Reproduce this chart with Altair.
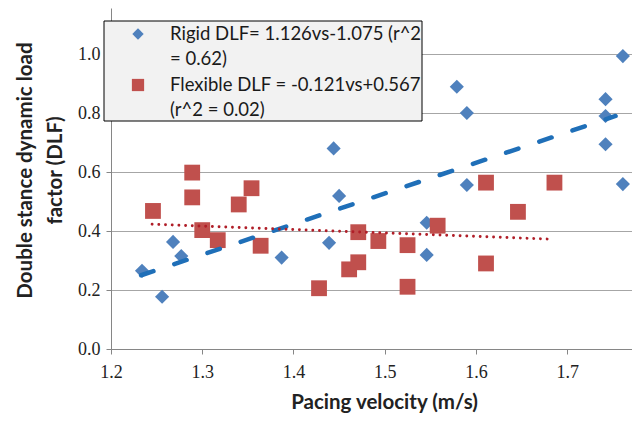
import altair as alt
import pandas as pd

# Rigid surface (blue diamonds)
rigid_v = [1.234, 1.256, 1.268, 1.277, 1.387, 1.439, 1.444, 1.450, 1.546, 1.546,
           1.579, 1.590, 1.590, 1.742, 1.742, 1.742, 1.761, 1.761]
rigid_dlf = [0.265, 0.177, 0.363, 0.315, 0.310, 0.360, 0.680, 0.519, 0.428, 0.319,
             0.889, 0.800, 0.556, 0.847, 0.790, 0.694, 0.993, 0.559]

# Flexible surface (red squares)
flex_v = [1.246, 1.289, 1.289, 1.300, 1.317, 1.340, 1.354, 1.364, 1.428, 1.461,
          1.471, 1.471, 1.493, 1.525, 1.525, 1.558, 1.611, 1.611, 1.646, 1.686]
flex_dlf = [0.468, 0.598, 0.514, 0.403, 0.369, 0.490, 0.545, 0.350, 0.206, 0.270,
            0.294, 0.396, 0.366, 0.352, 0.211, 0.418, 0.564, 0.290, 0.465, 0.564]

# Trend line end points as drawn
rigid_fit_v = [1.233, 1.753]
rigid_fit_dlf = [0.250, 0.790]
flex_fit_v = [1.245, 1.685]
flex_fit_dlf = [0.423, 0.372]

x_ticks = [1.2, 1.3, 1.4, 1.5, 1.6, 1.7]
y_ticks = [0.0, 0.2, 0.4, 0.6, 0.8, 1.0]

legend_lines = ["Rigid DLF= 1.126vs-1.075 (r^2", "= 0.62)",
                "Flexible DLF = -0.121vs+0.567", "(r^2 = 0.02)"]

BLUE = "#4F81BD"
RED = "#C0504D"

rigid = pd.DataFrame({"v": rigid_v, "dlf": rigid_dlf})
flex = pd.DataFrame({"v": flex_v, "dlf": flex_dlf})
rfit = pd.DataFrame({"v": rigid_fit_v, "dlf": rigid_fit_dlf})
ffit = pd.DataFrame({"v": flex_fit_v, "dlf": flex_fit_dlf})

xscale = alt.Scale(domain=[1.2, 1.771], nice=False, zero=False)
yscale = alt.Scale(domain=[0, 1.156], nice=False)

xaxis = alt.Axis(values=x_ticks, format=".1f", grid=False, labelFlush=False,
                 title="Pacing velocity (m/s)", titleX=273, titleY=59,
                 titleBaseline="alphabetic", titleAnchor="middle")
yaxis = alt.Axis(values=y_ticks, format=".1f", grid=True, labelFlush=False,
                 title=["Double  stance dynamic load", "factor (DLF)"],
                 titleAngle=-90, titleX=-86, titleY=162, titleAlign="center",
                 titleBaseline="middle", titleLineHeight=30)

base_x = alt.X("v:Q", scale=xscale, axis=xaxis)
base_y = alt.Y("dlf:Q", scale=yscale, axis=yaxis)

pts_r = alt.Chart(rigid).mark_point(shape="diamond", filled=True, size=200,
                                     color=BLUE, opacity=1).encode(x=base_x, y=base_y)
pts_f = alt.Chart(flex).mark_point(shape="square", filled=True, size=250,
                                    color=RED, opacity=1).encode(
    x=alt.X("v:Q", scale=xscale), y=alt.Y("dlf:Q", scale=yscale))

line_r = alt.Chart(rfit).mark_line(color="#1F6FB8", strokeWidth=4.5,
                                    strokeDash=[13, 22], strokeCap="round").encode(
    x=alt.X("v:Q", scale=xscale), y=alt.Y("dlf:Q", scale=yscale))
line_f = alt.Chart(ffit).mark_line(color="#B01E28", strokeWidth=2.8,
                                    strokeDash=[0.1, 6.6], strokeCap="round").encode(
    x=alt.X("v:Q", scale=xscale), y=alt.Y("dlf:Q", scale=yscale))

# Legend box (decoration)
one = pd.DataFrame({"a": [0]})
leg_box = alt.Chart(one).mark_rect(
    fill="#F2F2F2", stroke="#000000", strokeWidth=1).encode(
    x=alt.value(-7), x2=alt.value(311), y=alt.value(13), y2=alt.value(113))
leg_sym_r = alt.Chart(one).mark_point(
    shape="diamond", filled=True, size=130, color=BLUE, opacity=1).encode(
    x=alt.value(27), y=alt.value(26))
leg_sym_f = alt.Chart(one).mark_point(
    shape="square", filled=True, size=150, color=RED, opacity=1).encode(
    x=alt.value(27), y=alt.value(77))

leg_texts = []
for txt, yy in zip(legend_lines, [26, 51, 77, 102]):
    leg_texts.append(
        alt.Chart(one).mark_text(
            align="left", baseline="middle", font="Lato", fontSize=18.5,
            color="#1a1a1a").encode(
            x=alt.value(59), y=alt.value(yy), text=alt.value(txt)))

chart = alt.layer(pts_r, pts_f, line_r, line_f, leg_box, leg_sym_r, leg_sym_f,
                  *leg_texts).properties(
    width=521, height=341,
    padding={"left": 103, "top": 0, "right": 0, "bottom": 64},
    autosize=alt.AutoSizeParams(type="none"),
).configure_view(stroke=None, clip=False).configure_axis(
    domainColor="#868686", tickColor="#868686", gridColor="#A6A6A6",
    tickSize=5, labelFont="Liberation Serif", labelFontSize=18,
    labelColor="#222222", titleFont="Lato", titleFontSize=20.5,
    titleFontWeight="bold", titleColor="#222222",
).configure_axisX(labelPadding=9).configure_axisY(labelPadding=6)

chart.save("out.html", embed_options={"renderer": "svg", "actions": False})
